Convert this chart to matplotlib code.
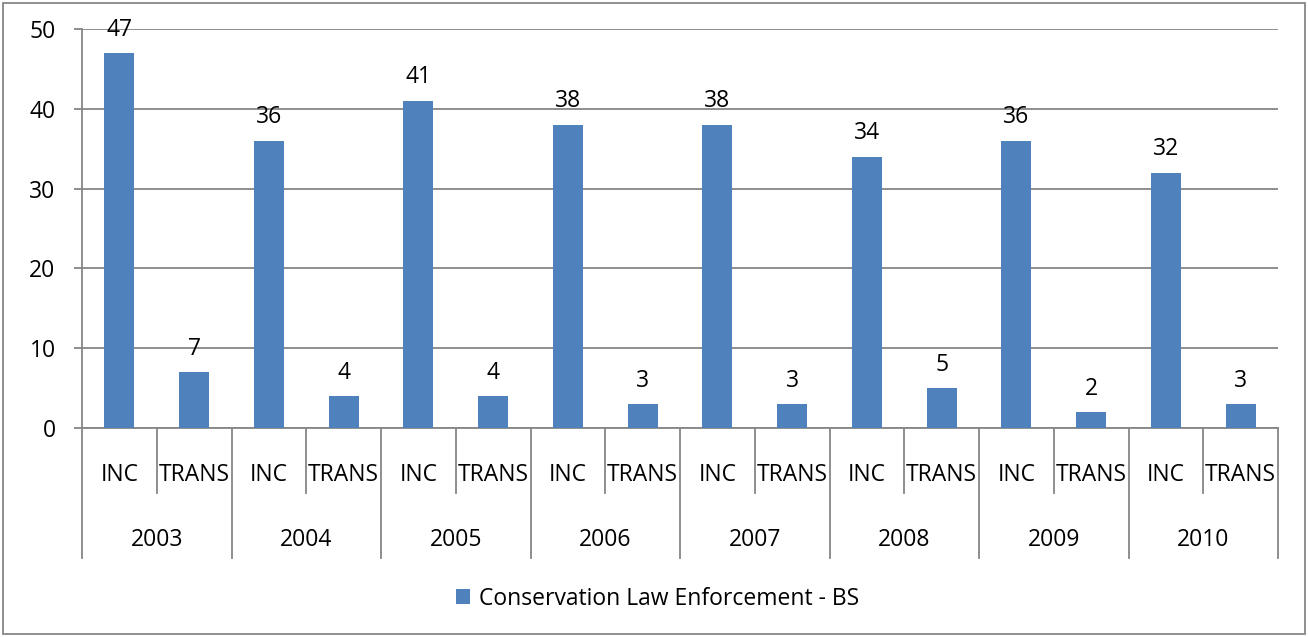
import matplotlib.pyplot as plt
from matplotlib.patches import Rectangle

# Данные
years = ["2003", "2004", "2005", "2006", "2007", "2008", "2009", "2010"]
kinds = ["INC", "TRANS"]
inc = [47, 36, 41, 38, 38, 34, 36, 32]
trans = [7, 4, 4, 3, 3, 5, 2, 3]
series_name = "Conservation Law Enforcement - BS"

values = []
labels = []
for i in range(len(years)):
    values.append(inc[i])
    values.append(trans[i])
    labels += kinds

plt.rcParams['font.family'] = ['Open Sans', 'DejaVu Sans']
fs = 16.5

fig = plt.figure(figsize=(13.08, 6.37), dpi=100)
ax = fig.add_axes([0.0627, 0.3281, 0.9144, 0.6264])

grid_c = "#868686"
x = list(range(len(values)))
bars = ax.bar(x, values, width=0.4, color="#4F81BD", label=series_name, zorder=3)

for xi, v in zip(x, values):
    ax.annotate(str(v), (xi, v), xytext=(0, 12.5), textcoords="offset points",
                ha="center", va="baseline", fontsize=fs)

ax.set_xlim(-0.5, len(values) - 0.5)
ax.set_ylim(0, 50)
ax.set_yticks(range(0, 51, 10))
ax.yaxis.grid(True, color=grid_c, linewidth=1.3, zorder=0)
ax.tick_params(axis="y", labelsize=fs, length=6, width=1.3, color=grid_c, pad=13)
ax.set_xticks([])

for s in ["top", "right"]:
    ax.spines[s].set_visible(False)
ax.spines["left"].set_color(grid_c)
ax.spines["left"].set_linewidth(1.3)
ax.spines["bottom"].set_color(grid_c)
ax.spines["bottom"].set_linewidth(1.3)

# Двухуровневая подпись оси X
tr = ax.get_xaxis_transform()
for i, lab in enumerate(labels):
    ax.text(i, -0.118, lab, transform=tr, ha="center", va="center", fontsize=fs)
for i in range(1, len(values)):
    if i % 2 == 1:
        ax.plot([i - 0.5, i - 0.5], [0, -0.163], transform=tr, color=grid_c,
                linewidth=1.3, clip_on=False)
for j in range(len(years) + 1):
    xs = 2 * j - 0.5
    ax.plot([xs, xs], [0, -0.326], transform=tr, color=grid_c,
            linewidth=1.3, clip_on=False)
for j, y in enumerate(years):
    ax.text(2 * j + 0.5, -0.281, y, transform=tr, ha="center", va="center", fontsize=fs)

fig.legend(handles=[bars], labels=[series_name], loc="center",
           bbox_to_anchor=(0.503, 0.060), frameon=False, fontsize=fs,
           handlelength=0.6, handleheight=0.6, handletextpad=0.4)

fig.patches.append(Rectangle((0.002, 0.004), 0.996, 0.992, transform=fig.transFigure,
                             fill=False, edgecolor=grid_c, linewidth=1.3))

fig.savefig("out.png", dpi=100)
